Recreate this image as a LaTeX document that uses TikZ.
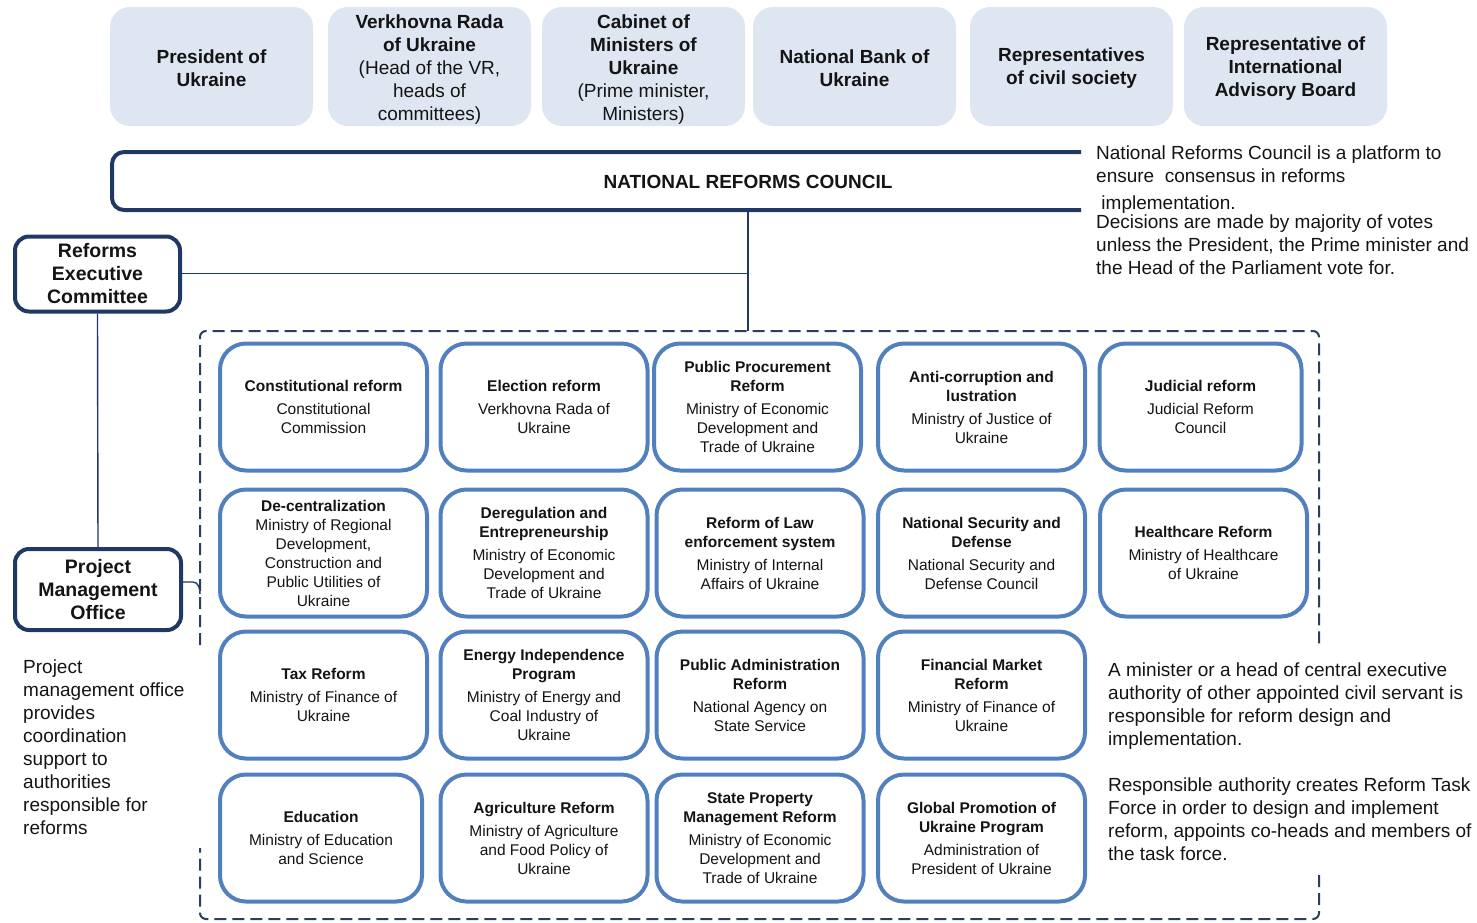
\documentclass[tikz,border=0pt]{standalone}
\usepackage{fontspec}
\setmainfont{Liberation Sans}
\definecolor{topfill}{RGB}{222,230,241}
\definecolor{navy}{RGB}{32,56,100}
\definecolor{rblue}{RGB}{82,127,189}
\definecolor{dashc}{RGB}{45,62,92}
\definecolor{txt}{RGB}{20,20,20}
\tikzset{
  topbox/.style={fill=topfill, rounded corners=20pt, minimum width=203pt, minimum height=119pt,
    align=center, inner sep=0pt, text=txt, font=\fontsize{19}{23}\selectfont},
  govbox/.style={draw=navy, line width=4pt, fill=white, rounded corners=14pt, align=center,
    inner sep=0pt, text=txt, font=\fontsize{19.5}{23}\selectfont\bfseries},
  reform/.style={draw=rblue, line width=4pt, fill=white, rounded corners=26pt,
    minimum width=207pt, minimum height=127pt, align=center, inner sep=0pt, text=txt,
    font=\fontsize{15.5}{19}\selectfont},
  note/.style={anchor=north west, align=left, inner sep=0pt, text=txt,
    font=\fontsize{19}{23}\selectfont},
  link/.style={draw=navy, line width=1.4pt},
  dashline/.style={draw=dashc, line width=2pt, dash pattern=on 12pt off 6pt, rounded corners=6pt}
}
\newcommand{\rf}[2]{\textbf{#1}\\[4pt]#2}
\begin{document}
\begin{tikzpicture}[x=1pt,y=-1pt]
\useasboundingbox (0,0) rectangle (1477,922);
% top row
\fill[topfill, rounded corners=20pt] (110,7) rectangle (313,126);
\node[topbox, fill=none] (pres) at (211.5,68.5) {\textbf{President of}\\\textbf{Ukraine}};
\fill[topfill, rounded corners=20pt] (328,7) rectangle (531,126);
\node[topbox, fill=none] (vr) at (429.5,69.5) {\textbf{Verkhovna Rada}\\\textbf{of Ukraine}\\(Head of the VR,\\heads of\\committees)};
\fill[topfill, rounded corners=20pt] (542,7) rectangle (745,126);
\node[topbox, fill=none] (cab) at (643.5,69.5) {\textbf{Cabinet of}\\\textbf{Ministers of}\\\textbf{Ukraine}\\(Prime minister,\\Ministers)};
\fill[topfill, rounded corners=20pt] (753,7) rectangle (956,126);
\node[topbox, fill=none] (nbu) at (854.5,68.5) {\textbf{National Bank of}\\\textbf{Ukraine}};
\fill[topfill, rounded corners=20pt] (970,7) rectangle (1173,126);
\node[topbox, fill=none] (civ) at (1071.5,68.5) {\textbf{Representatives}\\\textbf{of civil society}};
\fill[topfill, rounded corners=20pt] (1184,7) rectangle (1387,126);
\node[topbox, fill=none] (iab) at (1285.5,68.5) {\textbf{Representative of}\\\textbf{International}\\\textbf{Advisory Board}};
% national reforms council (open on the right)
\draw[navy, line width=4pt, rounded corners=12pt] (1081,152) -- (112,152) -- (112,210) -- (1081,210);
\node[inner sep=0pt, text=txt, font=\fontsize{19}{23}\selectfont\bfseries] (nrc) at (748,182) {NATIONAL REFORMS COUNCIL};
\coordinate (nrcb) at (748,210);
\coordinate (junc) at (748,273.5);
\coordinate (dtop) at (748,331);
\node[note] (nrcnote) at (1096,146) {National Reforms Council is a platform to\\ensure\ \ consensus in reforms\\[4pt]\ implementation.\\[-4pt]Decisions are made by majority of votes\\unless the President, the Prime minister and\\the Head of the Parliament vote for.};
% committee and office
\node[govbox, minimum width=165pt, minimum height=75pt] (rec) at (97.5,274) {Reforms\\Executive\\Committee};
\node[govbox, minimum width=166pt, minimum height=81pt] (pmo) at (98,589.5) {Project\\Management\\Office};
\draw[link] (nrcb) -- (dtop);
\draw[link] (rec.east |- junc) -- (junc);
\draw[link] (rec.south) -- (pmo.north);
\coordinate (pmoe) at (183,582);
\coordinate (dleft) at (200,594);
\draw[link] (pmoe) -- (193,582) to[out=0,in=90] (dleft);
\node[note] (pmonote) at (23,660) {Project\\management office\\provides\\coordination\\support to\\authorities\\responsible for\\reforms};
% dashed frame
\draw[dashline] (200,645) -- (200,331) -- (1319,331) -- (1319,648);
\draw[dashline] (1319,875) -- (1319,919) -- (200,919) -- (200,848);
% reforms grid
\node[reform] (r11) at (323.5,407) {\rf{Constitutional reform}{Constitutional\\Commission}};
\node[reform] (r12) at (544,407) {\rf{Election reform}{Verkhovna Rada of\\Ukraine}};
\node[reform] (r13) at (757.5,407) {\textbf{Public Procurement}\\\rf{Reform}{Ministry of Economic\\Development and\\Trade of Ukraine}};
\node[reform] (r14) at (981.5,407) {\textbf{Anti-corruption and}\\\rf{lustration}{Ministry of Justice of\\Ukraine}};
\node[reform, minimum width=202pt] (r15) at (1200.5,407) {\rf{Judicial reform}{Judicial Reform\\Council}};
\node[reform] (r21) at (323.5,553) {\textbf{De-centralization}\\Ministry of Regional\\Development,\\Construction and\\Public Utilities of\\Ukraine};
\node[reform] (r22) at (544,553) {\textbf{Deregulation and}\\\rf{Entrepreneurship}{Ministry of Economic\\Development and\\Trade of Ukraine}};
\node[reform] (r23) at (760,553) {\textbf{Reform of Law}\\\rf{enforcement system}{Ministry of Internal\\Affairs of Ukraine}};
\node[reform] (r24) at (981.5,553) {\textbf{National Security and}\\\rf{Defense}{National Security and\\Defense Council}};
\node[reform] (r25) at (1203.5,553) {\rf{Healthcare Reform}{Ministry of Healthcare\\of Ukraine}};
\node[reform] (r31) at (323.5,695) {\rf{Tax Reform}{Ministry of Finance of\\Ukraine}};
\node[reform] (r32) at (544,695) {\textbf{Energy Independence}\\\rf{Program}{Ministry of Energy and\\Coal Industry of\\Ukraine}};
\node[reform] (r33) at (760,695) {\textbf{Public Administration}\\\rf{Reform}{National Agency on\\State Service}};
\node[reform] (r34) at (981.5,695) {\textbf{Financial Market}\\\rf{Reform}{Ministry of Finance of\\Ukraine}};
\node[reform, minimum width=202pt] (r41) at (321,838) {\rf{Education}{Ministry of Education\\and Science}};
\node[reform] (r42) at (544,838) {\rf{Agriculture Reform}{Ministry of Agriculture\\and Food Policy of\\Ukraine}};
\node[reform] (r43) at (760,838) {\textbf{State Property}\\\rf{Management Reform}{Ministry of Economic\\Development and\\Trade of Ukraine}};
\node[reform] (r44) at (981.5,838) {\textbf{Global Promotion of}\\\rf{Ukraine Program}{Administration of\\President of Ukraine}};
% right notes
\node[note] (respnote) at (1108,663) {A minister or a head of central executive\\authority of other appointed civil servant is\\responsible for reform design and\\implementation.};
\node[note] (tasknote) at (1108,778) {Responsible authority creates Reform Task\\Force in order to design and implement\\reform, appoints co-heads and members of\\the task force.};
\end{tikzpicture}
\end{document}
